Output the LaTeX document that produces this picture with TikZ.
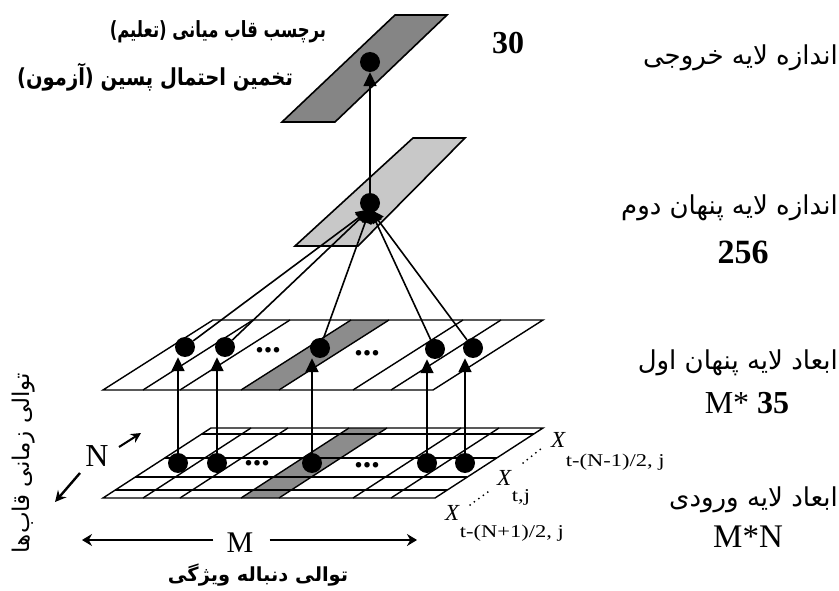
\documentclass[tikz,border=0pt]{standalone}
\usepackage{fontspec}
\setmainfont{Liberation Serif}
\newfontfamily\fa[Script=Arabic]{DejaVu Sans}
\TeXXeTstate=1
\usetikzlibrary{arrows.meta,calc}
\newcommand\fatxt[1]{\fa\beginR #1\endR}
\newcommand\xsub[2]{\raisebox{#1}{\scalebox{1.25}[1]{\fontsize{18}{18}\selectfont #2}}}
\definecolor{dgray}{HTML}{858585}
\definecolor{lgray}{HTML}{C8C8C8}
\definecolor{sgray}{HTML}{8C8C8C}
\begin{document}
\begin{tikzpicture}[x=1pt,y=-1pt,
  neuron/.style={circle,fill=black,minimum size=20pt,inner sep=0pt},
  conn/.style={line width=1.6pt,-{Triangle[width=13pt,length=14pt]}},
  gridl/.style={line width=1.4pt},
  panel/.style={draw=black,line width=1.6pt,line join=miter},
  plain/.style={inner sep=0pt},
  fsz/.style={font=\fontsize{#1}{#1}\selectfont},
  dimarrow/.style={line width=2pt,-{Stealth[length=10pt,width=12pt]}},
  tinydots/.style={line width=2pt,line cap=round,dash pattern=on 0pt off 5.5pt}
]
\useasboundingbox (0,0) rectangle (839,591);

% ---------- input grid (lower) ----------
\fill[sgray] (241,498) -- (279,498) -- (387,428) -- (349,428) -- cycle;
\draw[gridl] (103,498) -- (435,498) -- (543,428) -- (211,428) -- cycle;
\foreach \yy in {434,458,477,490}{
  \pgfmathsetmacro\off{(498-\yy)*108/70}
  \draw[gridl] ({103+\off},\yy) -- ({435+\off},\yy);
}
\foreach \xx in {143,180,241,279,353,391}{
  \draw[gridl] (\xx,498) -- ({\xx+108},428);
}

% ---------- first hidden grid (upper) ----------
\fill[sgray] (241,390) -- (279,390) -- (389,320) -- (351,320) -- cycle;
\draw[gridl] (103,390) -- (433,390) -- (543,320) -- (213,320) -- cycle;
\foreach \xx in {143,180,241,279,353,391}{
  \draw[gridl] (\xx,390) -- ({\xx+110},320);
}

% ---------- second hidden and output panels ----------
\filldraw[panel,fill=lgray] (295,246) -- (358,246) -- (465,138) -- (413,138) -- cycle;
\filldraw[panel,fill=dgray] (282,122) -- (335,122) -- (447,15) -- (395,15) -- cycle;

% ---------- neurons ----------
\node[neuron] (l1) at (178,463) {};
\node[neuron] (l2) at (217,463) {};
\node[neuron] (l3) at (312,463) {};
\node[neuron] (l4) at (427,463) {};
\node[neuron] (l5) at (465,463) {};
\node[neuron] (u1) at (185,347) {};
\node[neuron] (u2) at (225,347) {};
\node[neuron] (u3) at (320,348) {};
\node[neuron] (u4) at (435,349) {};
\node[neuron] (u5) at (473,348) {};
\node[neuron] (h) at (370,203) {};
\node[neuron] (o) at (370,62) {};

% ---------- connections ----------
\foreach \i in {1,...,5}{
  \draw[conn] (l\i) -- (l\i |- u\i.south);
  \draw[conn] (u\i) -- ([yshift=4pt]h.south);
}
\draw[conn] (h) -- (o.south);

% ---------- ellipsis dots ----------
\node[plain,fsz=34] (du1) at (268,350) {\textbf{...}};
\node[plain,fsz=34] (du2) at (367,353) {\textbf{...}};
\node[plain,fsz=34] (dl1) at (257,463) {\textbf{...}};
\node[plain,fsz=34] (dl2) at (367,465) {\textbf{...}};

% ---------- N and M dimension arrows ----------
\node[plain,fsz=32] (N) at (97,456) {N};
\coordinate (na) at (119,447);
\coordinate (nb) at (141,433);
\coordinate (nc) at (80,473);
\coordinate (nd) at (55,502);
\draw[dimarrow,-{Stealth[length=10pt,width=10pt]}] (na) -- (nb);
\draw[dimarrow,line width=2.4pt,-{Stealth[length=11pt,width=11pt]}] (nc) -- (nd);
\node[plain,fsz=30] (M) at (240,543) {M};
\coordinate (ml) at (82,540);
\coordinate (mr) at (417,540);
\draw[dimarrow] (M.west) ++(-13,-3) coordinate (mlst) -- (ml);
\draw[dimarrow] (M.east) ++(16,-3) coordinate (mrst) -- (mr);

% ---------- X labels ----------
\node[plain,fsz=23,anchor=base west] (x1) at (551,447)
  {\textit{X}\xsub{-19pt}{t-(N-1)/2, j}};
\node[plain,fsz=23,anchor=base west] (x2) at (497,485)
  {\textit{X}\xsub{-16pt}{t,j}};
\node[plain,fsz=23,anchor=base west] (x3) at (445,520)
  {\textit{X}\xsub{-17pt}{t-(N+1)/2, j}};
\coordinate (d1a) at (470,505);
\coordinate (d1b) at (492,489);
\coordinate (d2a) at (523,463);
\coordinate (d2b) at (542,448);
\draw[tinydots] (d1a) -- (d1b);
\draw[tinydots] (d2a) -- (d2b);

% ---------- Persian labels ----------
\node[plain,fsz=16.5] (t1) at (218,32) {\scalebox{1}[1.35]{\textbf{\fatxt{برچسب قاب میانی (تعلیم)}}}};
\node[plain,fsz=19.5] (t2) at (155,77) {\scalebox{1}[1.2]{\textbf{\fatxt{تخمین احتمال پسین (آزمون)}}}};
\node[plain,fsz=26,anchor=east] (r1) at (838,58) {\fatxt{اندازه لایه خروجی}};
\node[plain,fsz=26,anchor=east] (r2) at (838,208) {\fatxt{اندازه لایه پنهان دوم}};
\node[plain,fsz=26,anchor=east] (r3) at (838,363) {\fatxt{ابعاد لایه پنهان اول}};
\node[plain,fsz=26,anchor=east] (r4) at (838,500) {\fatxt{ابعاد لایه ورودی}};
\node[plain,fsz=19.4] (cap) at (258,575) {\textbf{\fatxt{توالی دنباله ویژگی}}};
\node[plain,fsz=23,rotate=90] (vcap) at (24,463) {\fatxt{توالی زمانی قاب‌ها}};

% ---------- numbers ----------
\node[plain,fsz=32] (n30) at (508,43) {\textbf{30}};
\node[plain,fsz=34] (n256) at (743,252) {\textbf{256}};
\node[plain,fsz=32] (nm35) at (747,403) {M* \textbf{35}};
\node[plain,fsz=33] (nmn) at (748,537) {M*N};
\end{tikzpicture}
\end{document}
